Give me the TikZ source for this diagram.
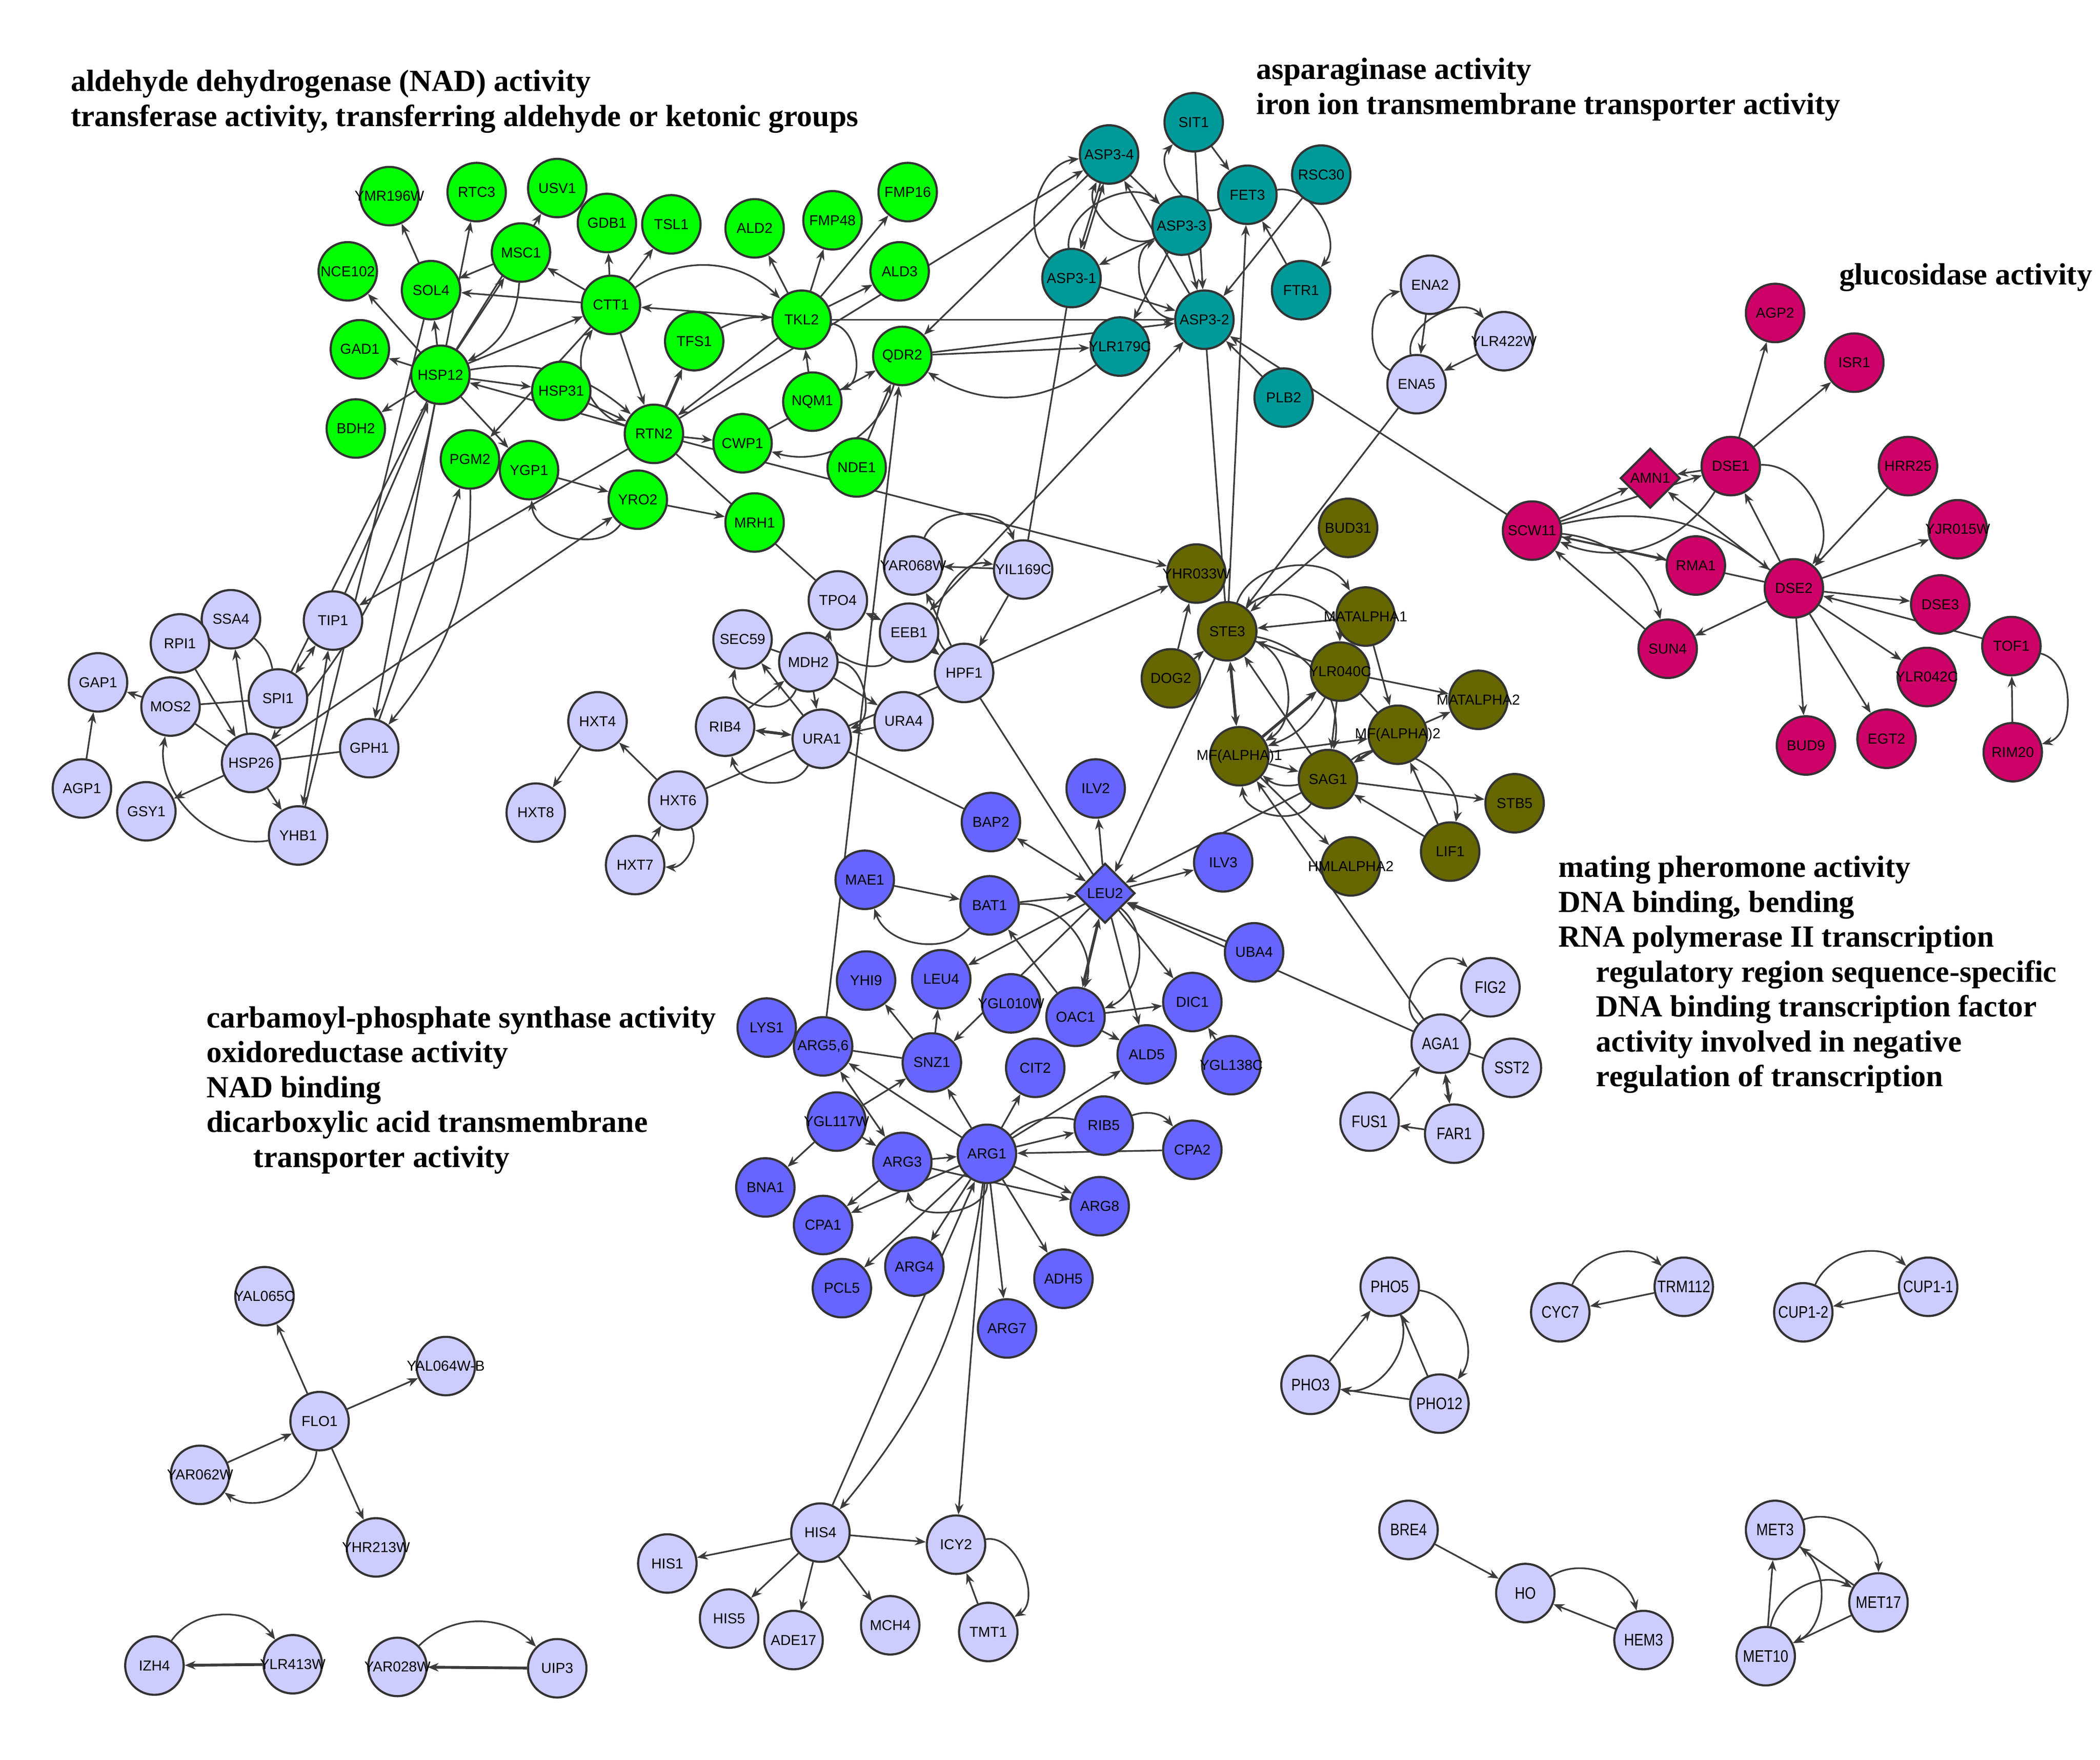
\documentclass[tikz,border=0pt]{standalone}
\usepackage{fontspec}
\setmainfont{Liberation Serif}
\newfontfamily\genefont{Liberation Sans}
\newfontfamily\genefontn{Liberation Sans}[FakeStretch=0.84]
\usetikzlibrary{arrows.meta,shapes.geometric}
\pgfdeclarelayer{bg}
\pgfsetlayers{bg,main}
\definecolor{rim}{HTML}{333333}
\definecolor{link}{HTML}{3C3C3C}
\definecolor{cgreen}{HTML}{00FF00}
\definecolor{cteal}{HTML}{009999}
\definecolor{clav}{HTML}{CCCCFF}
\definecolor{cmag}{HTML}{CC0066}
\definecolor{colive}{HTML}{666600}
\definecolor{cblue}{HTML}{6666FF}
\tikzset{
    every node/.style={circle, inner sep=0mm, draw=rim, line width=0.9pt, minimum size=8.7mm,
        font=\genefont\fontsize{6.1}{7}\selectfont}
}
\tikzset{every edge/.style={draw=link, line width=0.7pt}}
\tikzset{>={Stealth[length=4.6pt,width=3.6pt]}}
\tikzset{gene/.style={execute at begin node={\hbox to 0pt\bgroup\hss}, execute at end node={\hss\egroup}},
    gn/.style={gene, fill=cgreen}, tl/.style={gene, fill=cteal}, lv/.style={gene, fill=clav},
    mg/.style={gene, fill=cmag}, ol/.style={gene, fill=colive}, bl/.style={gene, fill=cblue},
    lvn/.style={gene, fill=clav, font=\genefontn\fontsize{7.1}{8}\selectfont},
    dia/.style={diamond, minimum size=8.9mm},
    ttl/.style={draw=none, rectangle, minimum size=0mm, anchor=base west,
        font=\bfseries\fontsize{13}{15}\selectfont}}

\begin{document}
\begin{tikzpicture}[x=0.2mm, y=0.2mm]
    \useasboundingbox (0,0) rectangle (1564,-1310);

    \node[ttl] (t1a) at (52,-68) {aldehyde dehydrogenase (NAD) activity};
    \node[ttl] (t1b) at (52,-94) {transferase activity, transferring aldehyde or ketonic groups};
    \node[ttl] (t2a) at (935,-59) {asparaginase activity};
    \node[ttl] (t2b) at (935,-85) {iron ion transmembrane transporter activity};
    \node[ttl] (t3a) at (1369,-212) {glucosidase activity};
    \node[ttl] (t4a) at (1160,-653) {mating pheromone activity};
    \node[ttl] (t4b) at (1160,-679) {DNA binding, bending};
    \node[ttl] (t4c) at (1160,-705) {RNA polymerase II transcription};
    \node[ttl] (t4d) at (1188,-731) {regulatory region sequence-specific};
    \node[ttl] (t4e) at (1188,-757) {DNA binding transcription factor};
    \node[ttl] (t4f) at (1188,-783) {activity involved in negative};
    \node[ttl] (t4g) at (1188,-809) {regulation of transcription};
    \node[ttl] (t5a) at (153,-765) {carbamoyl-phosphate synthase activity};
    \node[ttl] (t5b) at (153,-791) {oxidoreductase activity};
    \node[ttl] (t5c) at (153,-817) {NAD binding};
    \node[ttl] (t5d) at (153,-843) {dicarboxylic acid transmembrane};
    \node[ttl] (t5e) at (188,-869) {transporter activity};

    \node[gn] (ymr196w) at (290,-146) {YMR196W};
    \node[gn] (rtc3) at (355,-143) {RTC3};
    \node[gn] (usv1) at (415,-140) {USV1};
    \node[gn] (gdb1) at (452,-166) {GDB1};
    \node[gn] (tsl1) at (500,-167) {TSL1};
    \node[gn] (ald2) at (562,-170) {ALD2};
    \node[gn] (fmp48) at (620,-164) {FMP48};
    \node[gn] (fmp16) at (676,-143) {FMP16};
    \node[gn] (nce102) at (259,-202) {NCE102};
    \node[gn] (sol4) at (321,-216) {SOL4};
    \node[gn] (msc1) at (388,-188) {MSC1};
    \node[gn] (ctt1) at (455,-227) {CTT1};
    \node[gn] (tkl2) at (597,-238) {TKL2};
    \node[gn] (ald3) at (670,-202) {ALD3};
    \node[gn] (gad1) at (268,-260) {GAD1};
    \node[gn] (hsp12) at (328,-279) {HSP12};
    \node[gn] (tfs1) at (517,-254) {TFS1};
    \node[gn] (qdr2) at (672,-265) {QDR2};
    \node[gn] (hsp31) at (418,-291) {HSP31};
    \node[gn] (nqm1) at (605,-299) {NQM1};
    \node[gn] (bdh2) at (265,-319) {BDH2};
    \node[gn] (rtn2) at (487,-323) {RTN2};
    \node[gn] (cwp1) at (553,-330) {CWP1};
    \node[gn] (pgm2) at (350,-342) {PGM2};
    \node[gn] (ygp1) at (394,-350) {YGP1};
    \node[gn] (nde1) at (638,-348) {NDE1};
    \node[gn] (yro2) at (475,-372) {YRO2};
    \node[gn] (mrh1) at (562,-389) {MRH1};

    \node[tl] (asp34) at (826,-115) {ASP3-4};
    \node[tl] (sit1) at (889,-91) {SIT1};
    \node[tl] (rsc30) at (984,-130) {RSC30};
    \node[tl] (fet3) at (929,-145) {FET3};
    \node[tl] (asp33) at (880,-168) {ASP3-3};
    \node[tl] (asp31) at (798,-207) {ASP3-1};
    \node[tl] (ftr1) at (969,-216) {FTR1};
    \node[tl] (asp32) at (897,-238) {ASP3-2};
    \node[tl] (ylr179c) at (834,-258) {YLR179C};
    \node[tl] (plb2) at (956,-296) {PLB2};

    \node[lv] (ena2) at (1065,-212) {ENA2};
    \node[lv] (ylr422w) at (1120,-254) {YLR422W};
    \node[lv] (ena5) at (1055,-286) {ENA5};

    \node[mg] (agp2) at (1322,-233) {AGP2};
    \node[mg] (isr1) at (1381,-270) {ISR1};
    \node[mg, dia] (amn1) at (1229,-356) {AMN1};
    \node[mg] (dse1) at (1289,-347) {DSE1};
    \node[mg] (hrr25) at (1421,-347) {HRR25};
    \node[mg] (scw11) at (1141,-395) {SCW11};
    \node[mg] (rma1) at (1263,-421) {RMA1};
    \node[mg] (dse2) at (1336,-438) {DSE2};
    \node[mg] (yjr015w) at (1458,-394) {YJR015W};
    \node[mg] (dse3) at (1445,-450) {DSE3};
    \node[mg] (sun4) at (1242,-483) {SUN4};
    \node[mg] (tof1) at (1498,-481) {TOF1};
    \node[mg] (ylr042c) at (1435,-504) {YLR042C};
    \node[mg] (bud9) at (1345,-555) {BUD9};
    \node[mg] (egt2) at (1405,-550) {EGT2};
    \node[mg] (rim20) at (1499,-560) {RIM20};

    \node[ol] (bud31) at (1004,-393) {BUD31};
    \node[ol] (yhr033w) at (891,-427) {YHR033W};
    \node[ol] (ste3) at (914,-470) {STE3};
    \node[ol] (matalpha1) at (1017,-459) {MATALPHA1};
    \node[ol] (dog2) at (872,-505) {DOG2};
    \node[ol] (ylr040c) at (998,-500) {YLR040C};
    \node[ol] (matalpha2) at (1101,-521) {MATALPHA2};
    \node[ol] (mfa2) at (1041,-547) {MF(ALPHA)2};
    \node[ol] (mfa1) at (923,-563) {MF(ALPHA)1};
    \node[ol] (sag1) at (989,-580) {SAG1};
    \node[ol] (stb5) at (1128,-598) {STB5};
    \node[ol] (lif1) at (1080,-634) {LIF1};
    \node[ol] (hmlalpha2) at (1006,-645) {HMLALPHA2};

    \node[lv] (yar068w) at (680,-421) {YAR068W};
    \node[lv] (yil169c) at (762,-424) {YIL169C};
    \node[lv] (tpo4) at (624,-447) {TPO4};
    \node[lv] (eeb1) at (677,-471) {EEB1};
    \node[lv] (sec59) at (553,-476) {SEC59};
    \node[lv] (mdh2) at (602,-493) {MDH2};
    \node[lv] (hpf1) at (718,-501) {HPF1};
    \node[lv] (rib4) at (540,-541) {RIB4};
    \node[lv] (ura1) at (612,-550) {URA1};
    \node[lv] (ura4) at (673,-537) {URA4};
    \node[lv] (hxt4) at (445,-537) {HXT4};
    \node[lv] (hxt8) at (399,-605) {HXT8};
    \node[lv] (hxt6) at (505,-596) {HXT6};
    \node[lv] (hxt7) at (473,-644) {HXT7};

    \node[lv] (ssa4) at (172,-461) {SSA4};
    \node[lv] (tip1) at (248,-462) {TIP1};
    \node[lv] (rpi1) at (134,-479) {RPI1};
    \node[lv] (gap1) at (73,-508) {GAP1};
    \node[lv] (mos2) at (127,-526) {MOS2};
    \node[lv] (spi1) at (207,-520) {SPI1};
    \node[lv] (hsp26) at (187,-568) {HSP26};
    \node[lv] (gph1) at (275,-557) {GPH1};
    \node[lv] (agp1) at (61,-587) {AGP1};
    \node[lv] (gsy1) at (109,-604) {GSY1};
    \node[lv] (yhb1) at (222,-622) {YHB1};

    \node[bl] (ilv2) at (816,-587) {ILV2};
    \node[bl] (bap2) at (738,-612) {BAP2};
    \node[bl] (ilv3) at (911,-642) {ILV3};
    \node[bl] (mae1) at (644,-655) {MAE1};
    \node[bl, dia] (leu2) at (823,-665) {LEU2};
    \node[bl] (bat1) at (737,-674) {BAT1};
    \node[bl] (uba4) at (934,-709) {UBA4};
    \node[bl] (yhi9) at (645,-730) {YHI9};
    \node[bl] (leu4) at (701,-729) {LEU4};
    \node[bl] (ygl010w) at (753,-747) {YGL010W};
    \node[bl] (oac1) at (801,-757) {OAC1};
    \node[bl] (dic1) at (888,-746) {DIC1};
    \node[bl] (lys1) at (571,-765) {LYS1};
    \node[bl] (arg56) at (613,-779) {ARG5,6};
    \node[bl] (snz1) at (694,-791) {SNZ1};
    \node[bl] (cit2) at (771,-795) {CIT2};
    \node[bl] (ald5) at (854,-785) {ALD5};
    \node[bl] (ygl138c) at (917,-793) {YGL138C};
    \node[bl] (ygl117w) at (623,-835) {YGL117W};
    \node[bl] (arg3) at (672,-865) {ARG3};
    \node[bl] (arg1) at (735,-859) {ARG1};
    \node[bl] (rib5) at (822,-838) {RIB5};
    \node[bl] (cpa2) at (888,-856) {CPA2};
    \node[bl] (bna1) at (570,-884) {BNA1};
    \node[bl] (cpa1) at (613,-912) {CPA1};
    \node[bl] (arg8) at (819,-898) {ARG8};
    \node[bl] (arg4) at (681,-943) {ARG4};
    \node[bl] (pcl5) at (627,-959) {PCL5};
    \node[bl] (adh5) at (792,-952) {ADH5};
    \node[bl] (arg7) at (750,-989) {ARG7};

    \node[lvn] (fig2) at (1110,-735) {FIG2};
    \node[lvn] (aga1) at (1073,-777) {AGA1};
    \node[lvn] (sst2) at (1126,-795) {SST2};
    \node[lvn] (fus1) at (1020,-835) {FUS1};
    \node[lvn] (far1) at (1083,-844) {FAR1};

    \node[lv] (yal065c) at (197,-965) {YAL065C};
    \node[lv] (yal064wb) at (332,-1017) {YAL064W-B};
    \node[lv] (flo1) at (238,-1058) {FLO1};
    \node[lv] (yar062w) at (149,-1098) {YAR062W};
    \node[lv] (yhr213w) at (280,-1152) {YHR213W};
    \node[lv] (izh4) at (115,-1240) {IZH4};
    \node[lv] (ylr413w) at (218,-1239) {YLR413W};
    \node[lv] (yar028w) at (296,-1241) {YAR028W};
    \node[lv] (uip3) at (415,-1242) {UIP3};
    \node[lv] (his4) at (611,-1141) {HIS4};
    \node[lv] (icy2) at (712,-1150) {ICY2};
    \node[lv] (his1) at (497,-1164) {HIS1};
    \node[lv] (his5) at (543,-1205) {HIS5};
    \node[lv] (ade17) at (591,-1221) {ADE17};
    \node[lv] (mch4) at (663,-1210) {MCH4};
    \node[lv] (tmt1) at (736,-1215) {TMT1};

    \node[lvn] (pho5) at (1035,-958) {PHO5};
    \node[lvn] (pho3) at (976,-1031) {PHO3};
    \node[lvn] (pho12) at (1072,-1045) {PHO12};
    \node[lvn] (cyc7) at (1162,-977) {CYC7};
    \node[lvn] (trm112) at (1254,-958) {TRM112};
    \node[lvn] (cup12) at (1343,-977) {CUP1-2};
    \node[lvn] (cup11) at (1436,-958) {CUP1-1};
    \node[lvn] (bre4) at (1049,-1139) {BRE4};
    \node[lvn] (ho) at (1136,-1186) {HO};
    \node[lvn] (hem3) at (1224,-1221) {HEM3};
    \node[lvn] (met3) at (1322,-1139) {MET3};
    \node[lvn] (met17) at (1399,-1193) {MET17};
    \node[lvn] (met10) at (1315,-1233) {MET10};

    \begin{pgfonlayer}{bg}
        \fill[white] (0,0) rectangle (1564,-1310);

        \draw (sol4) edge[->] (ymr196w);
        \draw (hsp12) edge[->] (rtc3);
        \draw (hsp12) edge[->] (msc1);
        \draw (hsp12) edge[->] (usv1);
        \draw (msc1) edge[->] (sol4);
        \draw (ctt1) edge[->] (msc1);
        \draw (ctt1) edge[->] (sol4);
        \draw (ctt1) edge[->] (gdb1);
        \draw (ctt1) edge[->] (tsl1);
        \draw (hsp12) edge[->] (nce102);
        \draw (hsp12) edge[->] (gad1);
        \draw (hsp12) edge[->] (bdh2);
        \draw (hsp12) edge[->] (sol4);
        \draw (hsp12) edge[->] (ctt1);
        \draw (msc1) edge[->, bend left=30] (hsp12);
        \draw (hsp12) edge[->] (hsp31);
        \draw (rtn2) edge[->] (hsp12);
        \draw (hsp12) edge[->, bend left=25] (rtn2);
        \draw (hsp31) edge[->] (rtn2);
        \draw (rtn2) edge[->, bend left=55] (ctt1);
        \draw (ctt1) edge[->] (rtn2);
        \draw (ctt1) edge[->] (pgm2);
        \draw (hsp12) edge[->] (ygp1);
        \draw (ygp1) edge[->] (yro2);
        \draw (yro2) edge[->, bend left=70] (ygp1);
        \draw (rtn2) edge[->] (tip1);
        \draw (ctt1) edge[->, bend left=40] (tkl2);
        \draw (tkl2) edge[->] (ctt1);
        \draw (tkl2) edge[->] (ald2);
        \draw (tkl2) edge[->] (fmp48);
        \draw (tkl2) edge[->] (fmp16);
        \draw (tkl2) edge[->] (ald3);
        \draw (rtn2) edge[->] (asp34);
        \draw (asp34) edge[->] (qdr2);
        \draw (tkl2) edge[->] (asp32);
        \draw (tfs1) edge[->, bend left=15] (tkl2);
        \draw (rtn2) edge[->, line width=1.2pt] (tfs1);
        \draw (tkl2) edge[->, bend left=75] (nqm1);
        \draw (nqm1) edge[->] (tkl2);
        \draw (tkl2) edge[->] (rtn2);
        \draw (cwp1) edge[->] (qdr2);
        \draw (qdr2) edge[->, bend left=45] (cwp1);
        \draw (nde1) edge[->] (qdr2);
        \draw (arg56) edge[->] (qdr2);
        \draw (qdr2) edge[->] (ylr179c);
        \draw (qdr2) edge[->] (asp32);
        \draw (ylr179c) edge[->, bend left=35] (qdr2);
        \draw (rtn2) edge[->] (cwp1);
        \draw (rtn2) edge[->] (yhr033w);
        \draw (rtn2) edge (tpo4);
        \draw (yro2) edge[->] (mrh1);
        \draw (hsp26) edge[->] (yro2);

        \draw (asp34) edge[->] (asp33);
        \draw (asp32) edge[->] (asp34);
        \draw (asp33) edge[->, bend left=70] (asp34);
        \draw (asp31) edge[->, bend left=70] (asp33);
        \draw (asp34) edge[->] (asp31);
        \draw (asp31) edge[->, transform canvas={xshift=1.4pt}] (asp34);
        \draw (asp31) edge[->, bend left=65] (asp34);
        \draw (asp33) edge[->] (asp31);
        \draw (asp31) edge[->] (asp32);
        \draw (asp33) edge[->] (asp32);
        \draw (sit1) edge[->] (asp32);
        \draw (asp32) edge[->, bend left=75] (asp33);
        \draw (asp33) edge[->] (ylr179c);
        \draw (fet3) edge[->, bend left=80] (sit1);
        \draw (sit1) edge[->] (fet3);
        \draw (fet3) edge[->, bend left=70] (ftr1);
        \draw (ftr1) edge[->] (fet3);
        \draw (rsc30) edge[->] (asp32);
        \draw (ste3) edge[->] (fet3);
        \draw (asp32) edge (ste3);
        \draw (plb2) edge[->] (asp32);
        \draw (scw11) edge[->] (asp32);
        \draw (eeb1) edge[<->] (asp32);
        \draw (asp31) edge (yil169c);

        \draw (ena5) edge[->, bend left=70] (ena2);
        \draw (ena2) edge[->] (ena5);
        \draw (ena5) edge[->, bend left=75] (ylr422w);
        \draw (ylr422w) edge[->] (ena5);
        \draw (ena5) edge[->] (ste3);

        \draw (scw11) edge[->] (amn1);
        \draw (scw11) edge[->] (dse1);
        \draw (dse1) edge[->] (amn1);
        \draw (dse1) edge[->] (agp2);
        \draw (dse1) edge[->] (isr1);
        \draw (dse1) edge[->, bend left=65] (dse2);
        \draw (dse2) edge[->] (dse1);
        \draw (dse2) edge[->] (amn1);
        \draw (dse1) edge[->, bend left=40] (scw11);
        \draw (scw11) edge[->, bend left=25] (dse2);
        \draw (scw11) edge[->] (rma1);
        \draw (dse2) edge[->] (scw11);
        \draw (scw11) edge[->, bend left=35] (sun4);
        \draw (sun4) edge[->] (scw11);
        \draw (dse2) edge[->] (sun4);
        \draw (hrr25) edge[->] (dse2);
        \draw (dse2) edge[->] (yjr015w);
        \draw (dse2) edge[->] (dse3);
        \draw (tof1) edge[->] (dse2);
        \draw (dse2) edge[->] (ylr042c);
        \draw (dse2) edge[->] (bud9);
        \draw (dse2) edge[->] (egt2);
        \draw (rim20) edge[->] (tof1);
        \draw (tof1) edge[->, bend left=75] (rim20);

        \draw (bud31) edge[->] (ste3);
        \draw (ste3) edge[->, bend left=65] (matalpha1);
        \draw (matalpha1) edge[->] (ste3);
        \draw (ste3) edge[->, bend left=70] (ylr040c);
        \draw (ylr040c) edge[->] (ste3);
        \draw (dog2) edge[->] (yhr033w);
        \draw (dog2) edge[->] (ste3);
        \draw (ste3) edge[<->, line width=1.2pt] (mfa1);
        \draw (ste3) edge[->] (leu2);
        \draw (ste3) edge[->, bend left=65] (mfa1);
        \draw (sag1) edge[->] (ste3);
        \draw (ste3) edge[->, bend left=45] (sag1);
        \draw (mfa1) edge[->, line width=1.2pt] (ylr040c);
        \draw (ylr040c) edge[->] (matalpha2);
        \draw (matalpha1) edge[->] (mfa2);
        \draw (mfa2) edge[->] (matalpha2);
        \draw (ylr040c) edge (mfa2);
        \draw (mfa1) edge[->] (mfa2);
        \draw (ylr040c) edge[->, bend left=20] (mfa1);
        \draw (ylr040c) edge[->] (sag1);
        \draw (mfa1) edge[->] (sag1);
        \draw (sag1) edge[->, bend left=25] (mfa1);
        \draw (sag1) edge[->, bend left=70] (mfa1);
        \draw (mfa2) edge[->, line width=1.2pt] (sag1);
        \draw (sag1) edge[->] (stb5);
        \draw (sag1) edge[->, bend left=70] (lif1);
        \draw (lif1) edge[->] (sag1);
        \draw (lif1) edge[->] (mfa2);
        \draw (mfa1) edge[->] (hmlalpha2);
        \draw (aga1) edge[->] (mfa1);
        \draw (sag1) edge[->] (leu2);
        \draw (leu2) edge[->] (ilv3);
        \draw (hxt6) edge[->] (yhr033w);

        \draw (yar068w) edge[->, bend left=70] (yil169c);
        \draw (yil169c) edge[->] (yar068w);
        \draw (yil169c) edge[->] (hpf1);
        \draw (hpf1) edge[->, bend left=70] (yil169c);
        \draw (hpf1) edge[->] (yar068w);
        \draw (eeb1) edge[->] (hpf1);
        \draw (tpo4) edge[<->] (eeb1);
        \draw (eeb1) edge[->, bend left=80] (tpo4);
        \draw (rib4) edge[->] (mdh2);
        \draw (mdh2) edge[->, bend left=85, looseness=1.4] (sec59);
        \draw (ura1) edge[->] (sec59);
        \draw (mdh2) edge (sec59);
        \draw (mdh2) edge[->] (ura1);
        \draw (mdh2) edge[->] (ura4);
        \draw (ura4) edge[->] (ura1);
        \draw (mdh2) edge[->, bend left=80] (ura1);
        \draw (rib4) edge[<->, line width=1.2pt] (ura1);
        \draw (ura1) edge[->, bend left=70] (rib4);
        \draw (ura1) edge (bap2);
        \draw (hpf1) edge (leu2);
        \draw (hxt6) edge[->] (hxt4);
        \draw (hxt4) edge[->] (hxt8);
        \draw (hxt7) edge[->] (hxt6);
        \draw (hxt6) edge[->, bend left=60] (hxt7);

        \draw (ssa4) edge[bend left=20] (spi1);
        \draw (tip1) edge[<->] (spi1);
        \draw (hsp26) edge[->] (ssa4);
        \draw (rpi1) edge[->] (hsp26);
        \draw (mos2) edge (spi1);
        \draw (mos2) edge[->] (gap1);
        \draw (agp1) edge[->] (gap1);
        \draw (mos2) edge (hsp26);
        \draw (yhb1) edge[->, bend left=55] (mos2);
        \draw (hsp26) edge[->] (gsy1);
        \draw (hsp26) edge[->] (yhb1);
        \draw (gph1) edge (hsp26);
        \draw (tip1) edge[<->] (yhb1);
        \draw (sol4) edge (yhb1);
        \draw (tip1) edge[->] (hsp12);
        \draw (hsp12) edge (spi1);
        \draw (hsp12) edge[->] (gph1);
        \draw (hsp12) edge[->, bend left=15] (hsp26);
        \draw (gph1) edge[->] (pgm2);
        \draw (pgm2) edge[->, bend left=20] (gph1);

        \draw (leu2) edge[->] (ilv2);
        \draw (bap2) edge[<->] (leu2);
        \draw (mae1) edge[->] (bat1);
        \draw (bat1) edge[->, bend left=60] (mae1);
        \draw (bat1) edge[->] (leu2);
        \draw (bat1) edge[->, bend left=55] (oac1);
        \draw (oac1) edge[->] (bat1);
        \draw (leu2) edge[->] (leu4);
        \draw (leu2) edge[->] (snz1);
        \draw (oac1) edge[<->, line width=1.2pt] (leu2);
        \draw (leu2) edge[->, bend left=60] (oac1);
        \draw (leu2) edge[->] (ald5);
        \draw (leu2) edge[->] (dic1);
        \draw (oac1) edge[->] (dic1);
        \draw (oac1) edge[->] (ald5);
        \draw (ygl138c) edge[->] (dic1);
        \draw (snz1) edge[->] (yhi9);
        \draw (snz1) edge[->] (leu4);
        \draw (arg56) edge (snz1);
        \draw (uba4) edge[->] (leu2);
        \draw (aga1) edge[->] (leu2);
        \draw (arg1) edge[->] (arg56);
        \draw (arg3) edge[<->] (arg56);
        \draw (ygl117w) edge[->] (snz1);
        \draw (arg1) edge[->] (snz1);
        \draw (arg1) edge[->] (cit2);
        \draw (arg1) edge[->] (ald5);
        \draw (rib5) edge[bend right=25] (arg1);
        \draw (arg1) edge[->] (rib5);
        \draw (rib5) edge[->, bend left=35] (cpa2);
        \draw (cpa2) edge[->] (arg1);
        \draw (ygl117w) edge[->] (arg3);
        \draw (arg3) edge[->] (arg1);
        \draw (ygl117w) edge[->] (bna1);
        \draw (arg3) edge[->] (cpa1);
        \draw (arg1) edge[->] (cpa1);
        \draw (arg3) edge[->] (arg8);
        \draw (arg1) edge[->] (arg8);
        \draw (arg1) edge[->] (adh5);
        \draw (arg1) edge[->] (arg7);
        \draw (arg1) edge[->] (arg4);
        \draw (arg1) edge[->] (pcl5);
        \draw (arg1) edge[->, bend left=85] (arg3);
        \draw (his4) edge[->] (arg1);
        \draw (arg1) edge[->, bend left=16] (his4);
        \draw (arg1) edge[->] (icy2);

        \draw (aga1) edge[->, bend left=90, looseness=1.3] (fig2);
        \draw (fig2) edge (aga1);
        \draw (sst2) edge (aga1);
        \draw (fus1) edge[->] (aga1);
        \draw (far1) edge[<->, line width=1.2pt] (aga1);
        \draw (far1) edge[->] (fus1);

        \draw (flo1) edge[->] (yal065c);
        \draw (flo1) edge[->] (yal064wb);
        \draw (yar062w) edge[->] (flo1);
        \draw (flo1) edge[->, bend left=60] (yar062w);
        \draw (flo1) edge[->] (yhr213w);
        \draw (izh4) edge[->, bend left=55] (ylr413w);
        \draw (ylr413w) edge[->, line width=1.2pt] (izh4);
        \draw (yar028w) edge[->, bend left=45] (uip3);
        \draw (uip3) edge[->, line width=1.2pt] (yar028w);
        \draw (his4) edge[->] (icy2);
        \draw (his4) edge[->] (his1);
        \draw (his4) edge[->] (his5);
        \draw (his4) edge[->] (ade17);
        \draw (his4) edge[->] (mch4);
        \draw (icy2) edge[->, bend left=80] (tmt1);
        \draw (tmt1) edge[->] (icy2);

        \draw (pho3) edge[->] (pho5);
        \draw (pho5) edge[->, bend left=60] (pho3);
        \draw (pho12) edge[->] (pho5);
        \draw (pho5) edge[->, bend left=60] (pho12);
        \draw (pho12) edge[->] (pho3);
        \draw (cyc7) edge[->, bend left=55] (trm112);
        \draw (trm112) edge[->] (cyc7);
        \draw (cup12) edge[->, bend left=55] (cup11);
        \draw (cup11) edge[->] (cup12);
        \draw (bre4) edge[->] (ho);
        \draw (ho) edge[->, bend left=55] (hem3);
        \draw (hem3) edge[->] (ho);
        \draw (met3) edge[->, bend left=55] (met17);
        \draw (met17) edge[->] (met3);
        \draw (met10) edge[->] (met3);
        \draw (met3) edge[->, bend left=60] (met10);
        \draw (met10) edge[->, bend left=55] (met17);
        \draw (met17) edge[->] (met10);
    \end{pgfonlayer}
\end{tikzpicture}
\end{document}
